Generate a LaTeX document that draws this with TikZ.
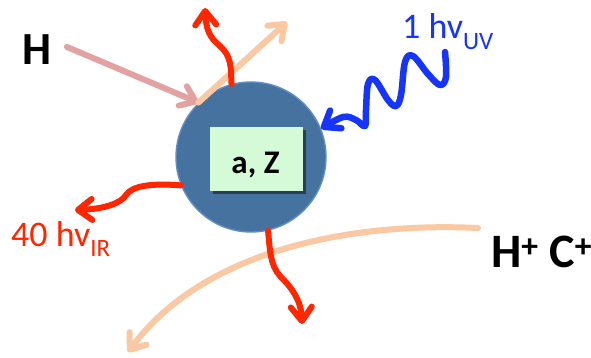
\documentclass[tikz,border=0pt]{standalone}
\usepackage{fontspec}
\setmainfont{Carlito}
\usetikzlibrary{arrows.meta,shadows}
\definecolor{ballblue}{RGB}{70,114,160}
\definecolor{balledge}{RGB}{96,142,196}
\definecolor{boxgreen}{RGB}{212,250,216}
\definecolor{redarr}{RGB}{255,38,0}
\definecolor{bluearr}{RGB}{22,52,250}
\definecolor{peach}{RGB}{250,200,162}
\definecolor{pinkarr}{RGB}{226,162,162}
\begin{document}
\begin{tikzpicture}[x=1pt,y=-1pt,
  tipbarb/.style={-{Straight Barb[length=14pt,width=21pt,line cap=round,line join=round]}},
  ray/.style={line width=6pt,line cap=round,line join=round,tipbarb,
    preaction={draw=black,opacity=0.12,transform canvas={shift={(1.5pt,-2.5pt)}}}},
  ball/.style={circle,fill=ballblue,draw=balledge,line width=1.4pt,minimum size=150pt,inner sep=0pt},
  boxstyle/.style={rectangle,fill=boxgreen,minimum width=93pt,minimum height=64pt,inner sep=0pt,
    drop shadow={shadow xshift=3pt,shadow yshift=-3pt,fill=black,opacity=0.45}},
  boldlab/.style={font=\bfseries\fontsize{#1}{#1}\selectfont,text=black,inner sep=0pt},
  plainlab/.style={font=\fontsize{36}{36}\selectfont,inner sep=0pt,anchor=base west}]
\useasboundingbox (0,0) rectangle (591,357);
% free ends
\coordinate (hstart) at (67,47);
\coordinate (peachend) at (287,22);
\coordinate (topend) at (205,8);
\coordinate (leftend) at (75,210);
\coordinate (botend) at (302,324);
\coordinate (pcstart) at (478,228);
\coordinate (pcend) at (128,352);
\coordinate (uvstart) at (445,52);
% ball and box
\node[ball] (ball) at (251,157) {};
\node[boxstyle] (box) at (256.5,159) {};
\node[boldlab=33,anchor=base] (boxlab) at (255.5,173) {a, Z};
% labels
\node[boldlab=46] (hlab) at (37,50) {H};
\node[boldlab=48,anchor=base west] (ions) at (491,267) {H\textsuperscript{+} C\textsuperscript{+}};
\node[plainlab,text=bluearr] (uvlab) at (402,38) {1 hv\raisebox{-11pt}{\fontsize{25}{25}\selectfont UV}};
\node[plainlab,text=redarr] (irlab) at (11,246) {40 hv\raisebox{-10pt}{\fontsize{25}{25}\selectfont IR}};
% incoming H and outgoing reflected
\draw[ray,pinkarr] (hstart) -- (ball.134);
\draw[ray,peach] (ball.134) -- (peachend);
% peach curve below
\draw[ray,peach] (pcstart) .. controls (355,222) and (205,248) .. (pcend);
% red IR photons
\draw[ray,redarr] (ball.105) .. controls (231,66) and (231,56) .. (220,46)
   .. controls (210,38) and (206,30) .. (topend);
\draw[ray,redarr] (ball.202) .. controls (150,183) and (132,186) .. (126,195)
   .. controls (121,203) and (105,209) .. (leftend);
\draw[ray,redarr] (ball.-77) .. controls (270,250) and (270,265) .. (280,276)
   .. controls (292,288) and (301,300) .. (botend);
% blue UV photon
\draw[ray,bluearr,line width=6.5pt] plot[smooth,tension=0.6] coordinates {(uvstart) (446,77) (440,85) (428,74) (413,56) (405,62) (401,95) (396,106) (388,100) (375,80) (368,84) (366,110) (365,126) (356,120) (343,117) (ball.22)};
\end{tikzpicture}
\end{document}
